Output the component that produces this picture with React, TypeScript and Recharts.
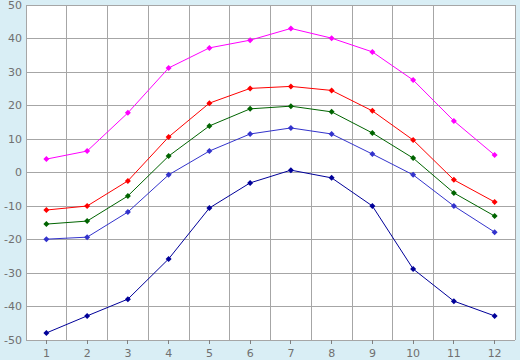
import { LineChart, Line, XAxis, YAxis, CartesianGrid } from "recharts";

const months = [1, 2, 3, 4, 5, 6, 7, 8, 9, 10, 11, 12];
const monthEdges = [0.5, 1.5, 2.5, 3.5, 4.5, 5.5, 6.5, 7.5, 8.5, 9.5, 10.5, 11.5, 12.5];
const yTicks = [-50, -40, -30, -20, -10, 0, 10, 20, 30, 40, 50];

const highest = [4.0, 6.4, 17.8, 31.2, 37.2, 39.5, 43.0, 40.1, 36.0, 27.6, 15.4, 5.2];
const avgHigh = [-11.2, -10.0, -2.5, 10.6, 20.7, 25.1, 25.7, 24.5, 18.4, 9.7, -2.2, -8.8];
const mean = [-15.4, -14.5, -7.0, 4.9, 13.9, 19.0, 19.8, 18.1, 11.8, 4.3, -6.1, -13.0];
const avgLow = [-19.9, -19.3, -11.8, -0.7, 6.4, 11.5, 13.3, 11.5, 5.5, -0.7, -10.0, -17.8];
const lowest = [-47.9, -42.8, -37.8, -25.8, -10.6, -3.1, 0.7, -1.6, -10.0, -28.8, -38.4, -42.8];

const data = months.map((m, i) => ({
  month: m,
  highest: highest[i],
  avgHigh: avgHigh[i],
  mean: mean[i],
  avgLow: avgLow[i],
  lowest: lowest[i],
}));

const SERIES = [
  { key: "highest", color: "#ff00ff" },
  { key: "avgHigh", color: "#ff0000" },
  { key: "mean", color: "#006400" },
  { key: "avgLow", color: "#3333cc" },
  { key: "lowest", color: "#000099" },
];

const TICK = { fontSize: 11, fill: "#707070", fontFamily: "DejaVu Sans, sans-serif" };

// pixel-sharp grid and tick lines, like the original
const CSS =
  "body{margin:0} .recharts-cartesian-grid line,.recharts-cartesian-axis-tick-line{shape-rendering:crispEdges}";

function marker(color: string) {
  return (p: any) => {
    const { cx, cy, index } = p;
    if (cx == null || cy == null) return <g key={index} />;
    return (
      <path
        key={index}
        d={`M${cx - 3},${cy} L${cx},${cy - 3} L${cx + 3},${cy} L${cx},${cy + 3} Z`}
        fill={color}
        stroke="none"
      />
    );
  };
}

export default function App() {
  return (
    <div style={{ width: 520, height: 360, background: "#d9eef5" }}>
      <style>{CSS}</style>
      <LineChart
        width={520}
        height={360}
        data={data}
        margin={{ top: 5, right: 5, left: 0, bottom: 0 }}
      >
        <CartesianGrid
          xAxisId="grid"
          stroke="#a6a6a6"
          fill="#ffffff"
          fillOpacity={1}
        />
        <XAxis
          xAxisId="grid"
          type="number"
          dataKey="month"
          domain={[0.5, 12.5]}
          ticks={monthEdges}
          hide
        />
        <XAxis
          dataKey="month"
          type="number"
          domain={[0.5, 12.5]}
          ticks={months}
          interval={0}
          height={20}
          axisLine={false}
          tickSize={4}
          tickMargin={5}
          tickLine={{ stroke: "#808080" }}
          tick={TICK}
        />
        <YAxis
          domain={[-50, 50]}
          ticks={yTicks}
          interval={0}
          width={26}
          axisLine={false}
          tickLine={false}
          tickSize={0}
          tickMargin={4}
          tick={TICK}
        />
        {SERIES.map((s) => (
          <Line
            key={s.key}
            dataKey={s.key}
            type="linear"
            stroke={s.color}
            strokeWidth={1}
            dot={marker(s.color)}
            activeDot={false}
            isAnimationActive={false}
          />
        ))}
      </LineChart>
    </div>
  );
}
